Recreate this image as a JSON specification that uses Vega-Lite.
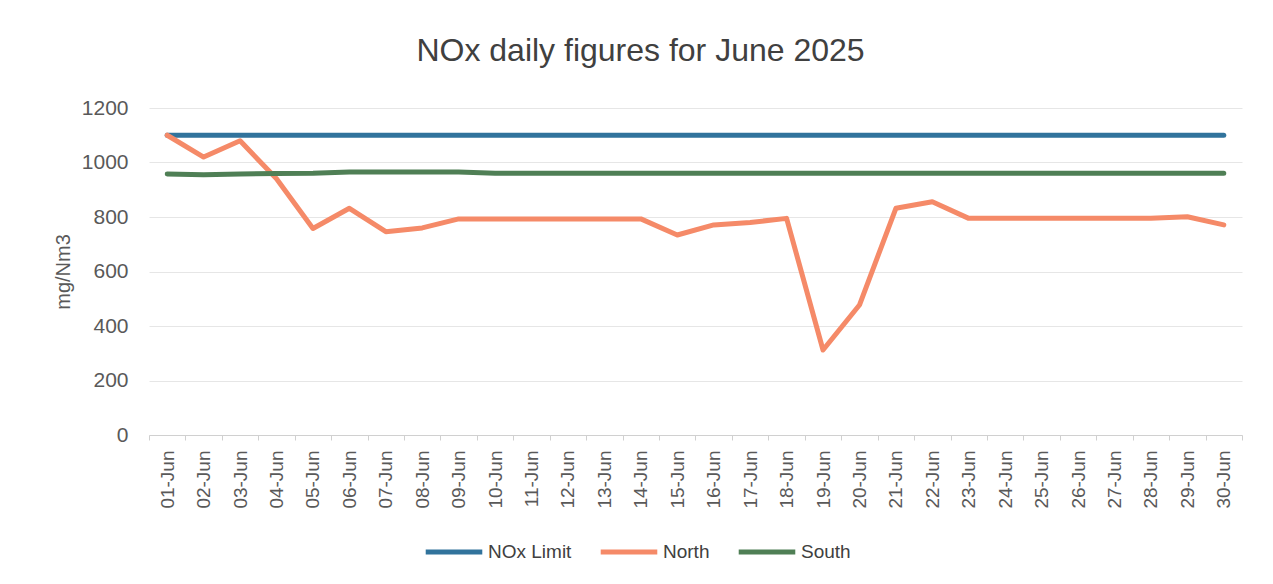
{
  "$schema": "https://vega.github.io/schema/vega-lite/v6.json",
  "autosize": {"type": "none"},
  "width": 1093,
  "height": 327,
  "padding": {"left": 149, "top": 108, "right": 31, "bottom": 149},
  "background": "white",
  "title": {
    "text": "NOx daily figures for June 2025",
    "font": "Liberation Sans",
    "fontSize": 32,
    "fontWeight": "normal",
    "color": "#404040",
    "anchor": "middle",
    "dx": -55,
    "offset": 29
  },
  "data": {
    "values": [
      {"day": "01-Jun", "NOx Limit": 1100, "North": 1100, "South": 958},
      {"day": "02-Jun", "NOx Limit": 1100, "North": 1020, "South": 955},
      {"day": "03-Jun", "NOx Limit": 1100, "North": 1080, "South": 958},
      {"day": "04-Jun", "NOx Limit": 1100, "North": 940, "South": 960},
      {"day": "05-Jun", "NOx Limit": 1100, "North": 758, "South": 961},
      {"day": "06-Jun", "NOx Limit": 1100, "North": 832, "South": 965},
      {"day": "07-Jun", "NOx Limit": 1100, "North": 746, "South": 965},
      {"day": "08-Jun", "NOx Limit": 1100, "North": 760, "South": 965},
      {"day": "09-Jun", "NOx Limit": 1100, "North": 793, "South": 965},
      {"day": "10-Jun", "NOx Limit": 1100, "North": 793, "South": 961},
      {"day": "11-Jun", "NOx Limit": 1100, "North": 793, "South": 961},
      {"day": "12-Jun", "NOx Limit": 1100, "North": 793, "South": 961},
      {"day": "13-Jun", "NOx Limit": 1100, "North": 793, "South": 961},
      {"day": "14-Jun", "NOx Limit": 1100, "North": 793, "South": 961},
      {"day": "15-Jun", "NOx Limit": 1100, "North": 734, "South": 961},
      {"day": "16-Jun", "NOx Limit": 1100, "North": 771, "South": 961},
      {"day": "17-Jun", "NOx Limit": 1100, "North": 780, "South": 961},
      {"day": "18-Jun", "NOx Limit": 1100, "North": 795, "South": 961},
      {"day": "19-Jun", "NOx Limit": 1100, "North": 312, "South": 961},
      {"day": "20-Jun", "NOx Limit": 1100, "North": 477, "South": 961},
      {"day": "21-Jun", "NOx Limit": 1100, "North": 832, "South": 961},
      {"day": "22-Jun", "NOx Limit": 1100, "North": 856, "South": 961},
      {"day": "23-Jun", "NOx Limit": 1100, "North": 795, "South": 961},
      {"day": "24-Jun", "NOx Limit": 1100, "North": 795, "South": 961},
      {"day": "25-Jun", "NOx Limit": 1100, "North": 795, "South": 961},
      {"day": "26-Jun", "NOx Limit": 1100, "North": 795, "South": 961},
      {"day": "27-Jun", "NOx Limit": 1100, "North": 795, "South": 961},
      {"day": "28-Jun", "NOx Limit": 1100, "North": 795, "South": 961},
      {"day": "29-Jun", "NOx Limit": 1100, "North": 801, "South": 961},
      {"day": "30-Jun", "NOx Limit": 1100, "North": 771, "South": 961}
    ]
  },
  "transform": [
    {"fold": ["NOx Limit", "North", "South"], "as": ["series", "value"]}
  ],
  "mark": {"type": "line", "strokeWidth": 5, "strokeCap": "round", "strokeJoin": "round"},
  "encoding": {
    "x": {
      "field": "day",
      "type": "ordinal",
      "sort": null,
      "bandPosition": 0.5,
      "scale": {"type": "band", "paddingInner": 0, "paddingOuter": 0},
      "axis": {
        "title": null,
        "labelAngle": -90,
        "labelFont": "Liberation Sans",
        "labelFontSize": 19,
        "labelColor": "#595959",
        "labelPadding": 10,
        "tickBand": "extent",
        "tickColor": "#d0d0d0",
        "tickSize": 5,
        "domainColor": "#d0d0d0",
        "grid": false
      }
    },
    "y": {
      "field": "value",
      "type": "quantitative",
      "scale": {"domain": [0, 1200], "nice": false},
      "axis": {
        "title": "mg/Nm3",
        "titleFont": "Liberation Sans",
        "titleFontSize": 20,
        "titleFontWeight": "normal",
        "titleColor": "#595959",
        "titlePadding": 8,
        "values": [0, 200, 400, 600, 800, 1000, 1200],
        "format": "d",
        "labelFont": "Liberation Sans",
        "labelFontSize": 21,
        "labelColor": "#595959",
        "labelPadding": 21,
        "domain": false,
        "ticks": false,
        "grid": true,
        "gridColor": "#e6e6e6"
      }
    },
    "color": {
      "field": "series",
      "type": "nominal",
      "scale": {
        "domain": ["NOx Limit", "North", "South"],
        "range": ["#31739c", "#f58a68", "#4f7f55"]
      },
      "legend": {
        "title": null,
        "orient": "none",
        "direction": "horizontal",
        "legendX": 274,
        "legendY": 413,
        "symbolType": "stroke",
        "symbolSize": 3200,
        "symbolStrokeWidth": 5,
        "labelFont": "Liberation Sans",
        "labelFontSize": 19,
        "labelColor": "#404040",
        "labelOffset": 3,
        "columnPadding": 18
      }
    }
  },
  "config": {"view": {"stroke": null}}
}
